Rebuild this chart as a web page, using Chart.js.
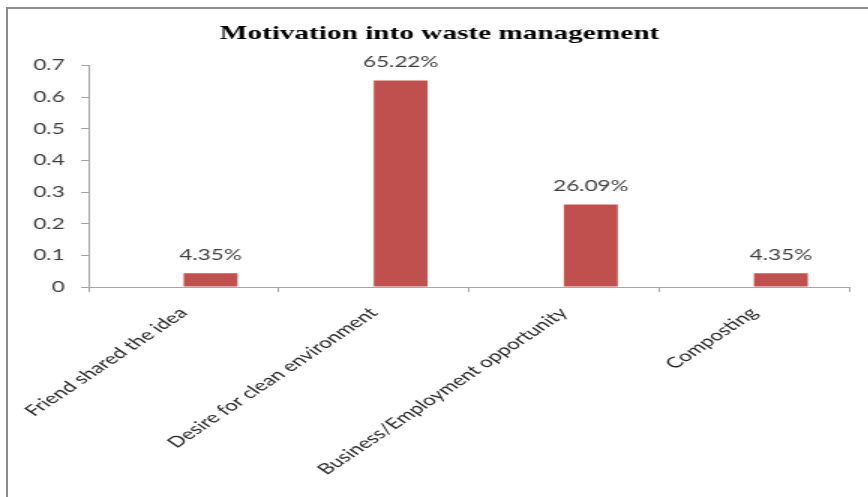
<!DOCTYPE html>
<html>
<head>
<meta charset="utf-8">
<title>Motivation into waste management</title>
<script src="https://cdn.jsdelivr.net/npm/chart.js@4.4.1/dist/chart.umd.min.js"></script>
<style>
  html, body { margin:0; padding:0; background:#fff; overflow:hidden; }
  /* the source picture is stretched sideways 1.5x, so draw narrow and scale */
  #wrap { position:absolute; left:0; top:0; width:579px; height:497px; transform:scale(1.5,1); transform-origin:0 0; }
  #frame { position:absolute; left:6px; top:7px; width:900px; height:600px; border-left:2px solid #8c8c8c; border-top:2px solid #8c8c8c; }
</style>
</head>
<body>
<div id="frame"></div>
<div id="wrap"><canvas id="chart"></canvas></div>
<script>
// data
var categories = ['Friend shared the idea', 'Desire for clean environment', 'Business/Employment opportunity', 'Composting'];
var shares = [0.0435, 0.6522, 0.2609, 0.0435];
var shareLabels = ['4.35%', '65.22%', '26.09%', '4.35%'];
var emptySeries = [null, null, null, null]; // blank first series in the original sheet
var yTicks = [0, 0.1, 0.2, 0.3, 0.4, 0.5, 0.6, 0.7];

var textFont = "Lato, 'Open Sans', sans-serif";

// percent labels on top of the bars
var barLabels = {
  id: 'barLabels',
  afterDatasetsDraw: function(chart){
    var ctx = chart.ctx;
    var meta = chart.getDatasetMeta(1);
    ctx.save();
    ctx.font = '15px ' + textFont;
    ctx.fillStyle = '#404040';
    ctx.textAlign = 'center';
    ctx.textBaseline = 'middle';
    meta.data.forEach(function(bar, i){
      ctx.fillText(shareLabels[i], bar.x, bar.y - 18);
    });
    ctx.restore();
  }
};

var ctx = document.getElementById('chart').getContext('2d');
new Chart(ctx, {
  type: 'bar',
  data: {
    labels: categories,
    datasets: [
      { label: '', data: emptySeries, backgroundColor: '#4F81BD' },
      { label: 'Motivation', data: shares, backgroundColor: '#C0504D', borderWidth: 0 }
    ]
  },
  options: {
    responsive: true,
    maintainAspectRatio: false,
    animation: false,
    layout: { padding: { left: 20, right: 13, top: 10, bottom: 0 } },
    datasets: { bar: { categoryPercentage: 0.567, barPercentage: 1.0 } },
    plugins: {
      legend: { display: false },
      tooltip: { enabled: false },
      title: {
        display: true,
        text: 'Motivation into waste management',
        color: '#000',
        font: { family: "'Liberation Serif', 'Times New Roman', serif", size: 19.5, weight: 'bold' },
        padding: { top: 12, bottom: 20 }
      }
    },
    scales: {
      x: {
        offset: true,
        grid: { offset: true, drawOnChartArea: false, tickLength: 5, color: '#a6a6a6' },
        border: { color: '#a6a6a6', width: 1 },
        ticks: {
          maxRotation: 45, minRotation: 45, padding: 12,
          color: '#262626', font: { family: textFont, size: 15 }
        },
        afterFit: function(scale){ scale.height = 210; }
      },
      y: {
        min: 0, max: 0.7,
        afterBuildTicks: function(scale){ scale.ticks = yTicks.map(function(v){ return { value: v }; }); },
        grid: { drawOnChartArea: false, tickLength: 5, color: '#a6a6a6' },
        border: { color: '#a6a6a6', width: 1 },
        ticks: {
          padding: 11, color: '#404040', font: { family: textFont, size: 15 },
          callback: function(v){ return String(Math.round(v * 10) / 10); }
        },
        afterFit: function(scale){ scale.width = 38; }
      }
    }
  },
  plugins: [barLabels]
});
</script>
</body>
</html>
